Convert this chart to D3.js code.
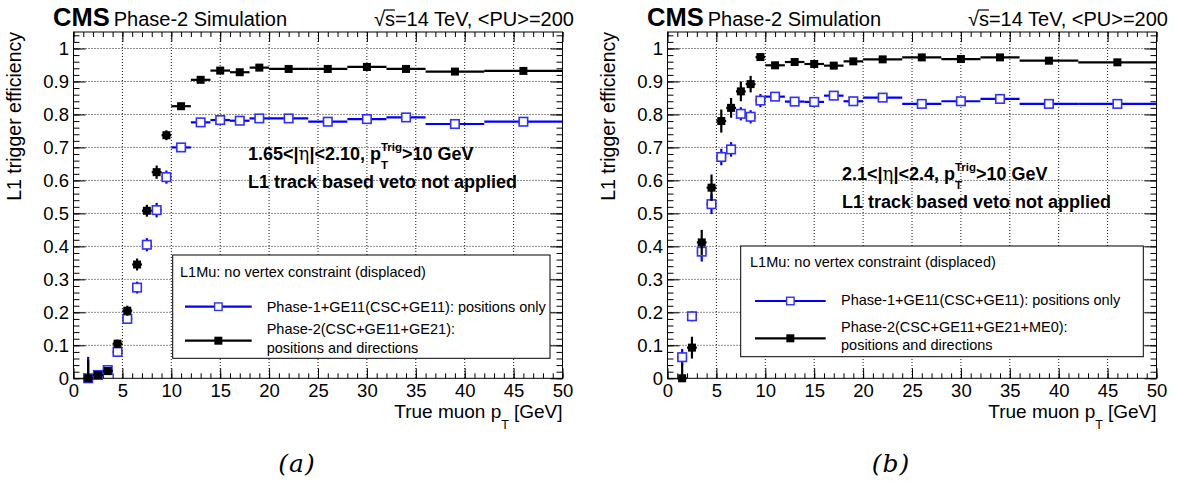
<!DOCTYPE html>
<html>
<head>
<meta charset="utf-8">
<style>
  body { margin: 0; background: #fff; }
  svg { display: block; }
  text { font-family: "Liberation Sans", Arial, sans-serif; }
</style>
<script src="https://d3js.org/d3.v7.min.js"></script>
</head>
<body>
<div id="chart"></div>
<script>
// ---- data ----
var binEdges = [1, 2, 3, 4, 5, 6, 7, 8, 9, 10, 12, 14, 16, 18, 20, 24, 28, 32, 36, 42, 50];
var xTicks = [0, 5, 10, 15, 20, 25, 30, 35, 40, 45, 50];
var yTicks = [0, 0.1, 0.2, 0.3, 0.4, 0.5, 0.6, 0.7, 0.8, 0.9, 1];
var yTickLabels = ["0", "0.1", "0.2", "0.3", "0.4", "0.5", "0.6", "0.7", "0.8", "0.9", "1"];

// (a) 1.65<|eta|<2.10
var effA_phase1 = [0.0, 0.01, 0.025, 0.08, 0.18, 0.275, 0.405, 0.51, 0.61, 0.70, 0.776, 0.783, 0.781, 0.788, 0.788, 0.778, 0.786, 0.791, 0.771, 0.778];
var errA_phase1 = [0.065, 0.01, 0.01, 0.012, 0.015, 0.018, 0.02, 0.022, 0.02, 0.008, 0.006, 0.006, 0.006, 0.005, 0.004, 0.004, 0.004, 0.004, 0.003, 0.003];
var effA_phase2 = [0.0, 0.01, 0.022, 0.105, 0.205, 0.345, 0.508, 0.625, 0.737, 0.825, 0.905, 0.933, 0.928, 0.942, 0.938, 0.938, 0.944, 0.938, 0.93, 0.932];
var errA_phase2 = [0.055, 0.008, 0.01, 0.012, 0.015, 0.018, 0.018, 0.02, 0.015, 0.006, 0.005, 0.004, 0.004, 0.004, 0.003, 0.003, 0.003, 0.003, 0.003, 0.003];

// (b) 2.1<|eta|<2.4
var effB_phase1 = [0.064, 0.188, 0.384, 0.528, 0.671, 0.694, 0.802, 0.793, 0.842, 0.854, 0.839, 0.838, 0.857, 0.840, 0.851, 0.832, 0.840, 0.847, 0.832, 0.832];
var errB_phase1 = [0.025, 0.015, 0.03, 0.03, 0.025, 0.022, 0.02, 0.02, 0.02, 0.008, 0.008, 0.008, 0.008, 0.007, 0.005, 0.005, 0.005, 0.005, 0.004, 0.004];
var effB_phase2 = [0.0, 0.093, 0.412, 0.578, 0.78, 0.82, 0.87, 0.892, 0.974, 0.949, 0.959, 0.953, 0.948, 0.961, 0.967, 0.973, 0.968, 0.973, 0.963, 0.958];
var errB_phase2 = [0.045, 0.033, 0.038, 0.04, 0.035, 0.03, 0.03, 0.025, 0.012, 0.01, 0.01, 0.01, 0.01, 0.008, 0.006, 0.006, 0.006, 0.006, 0.005, 0.005];

var W = 1178, H = 484;
var blue = "#0000ff", blueMk = "#3030ff";

var svg = d3.select("#chart").append("svg")
    .attr("width", W)
    .attr("height", H);

svg.append("rect").attr("width", W).attr("height", H).attr("fill", "#fff");

// sequential text pieces (sub/superscripts, greek), returns width
function rich(g, x, y, parts, base) {
    var cx = x;
    function piece(p, px) {
        var t = g.append("text")
            .attr("x", px)
            .attr("y", y + (p.dy || 0))
            .attr("font-size", p.size || base.size)
            .attr("font-weight", p.weight || base.weight || "normal")
            .text(p.t);
        if (p.family) t.style("font-family", p.family);
        var w = t.node().getComputedTextLength() + (p.gap || 0);
        if (p.overline) {
            var s = p.size || base.size;
            g.append("line")
                .attr("x1", px - 1).attr("x2", px + w)
                .attr("y1", y - s * 0.8).attr("y2", y - s * 0.8)
                .attr("stroke", "#000").attr("stroke-width", 1.2);
        }
        return w;
    }
    parts.forEach(function(p) {
        if (p.stack) {
            var w = 0;
            p.stack.forEach(function(s) { w = Math.max(w, piece(s, cx)); });
            cx += w;
        } else {
            cx += piece(p, cx);
        }
    });
    return cx - x;
}

function richEnd(xEnd, y, parts, base) {
    var g = svg.append("g");
    var w = rich(g, 0, y, parts, base);
    g.attr("transform", "translate(" + (xEnd - w) + ",0)");
}

function drawPanel(p) {
    var yTop = 32, yBot = 378.3;
    var x = d3.scaleLinear().domain([0, 50]).range([p.x0, p.x1]);
    var y = d3.scaleLinear().domain([0, 1.05]).range([yBot, yTop]);
    var g = svg.append("g");

    // dotted grid
    g.append("g").selectAll("line")
        .data(xTicks.slice(1, -1))
        .join("line")
        .attr("x1", d => x(d)).attr("x2", d => x(d))
        .attr("y1", yTop).attr("y2", yBot)
        .attr("stroke", "#000").attr("stroke-width", 0.9)
        .attr("stroke-dasharray", "1,2");
    g.append("g").selectAll("line")
        .data(yTicks.slice(1))
        .join("line")
        .attr("x1", p.x0).attr("x2", p.x1)
        .attr("y1", d => y(d)).attr("y2", d => y(d))
        .attr("stroke", "#000").attr("stroke-width", 0.9)
        .attr("stroke-dasharray", "1,2");

    var xMinor = d3.range(0, 51);
    var yMinor = d3.range(0, 53).map(i => i * 0.02).filter(v => v <= 1.05);

    // bottom
    var xb = g.append("g").attr("transform", "translate(0," + yBot + ")")
        .call(d3.axisBottom(x).tickValues(xTicks).tickSize(-10).tickPadding(5.5)
            .tickFormat(d3.format("d")));
    g.append("g").attr("transform", "translate(0," + yBot + ")")
        .call(d3.axisBottom(x).tickValues(xMinor).tickSize(-5).tickFormat(""));
    // top
    g.append("g").attr("transform", "translate(0," + yTop + ")")
        .call(d3.axisTop(x).tickValues(xTicks).tickSize(-10).tickFormat(""));
    g.append("g").attr("transform", "translate(0," + yTop + ")")
        .call(d3.axisTop(x).tickValues(xMinor).tickSize(-5).tickFormat(""));
    // left
    var yl = g.append("g").attr("transform", "translate(" + p.x0 + ",0)")
        .call(d3.axisLeft(y).tickValues(yTicks).tickSize(-12).tickPadding(4.5)
            .tickFormat((d, i) => yTickLabels[i]));
    g.append("g").attr("transform", "translate(" + p.x0 + ",0)")
        .call(d3.axisLeft(y).tickValues(yMinor).tickSize(-6).tickFormat(""));
    // right
    g.append("g").attr("transform", "translate(" + p.x1 + ",0)")
        .call(d3.axisRight(y).tickValues(yTicks).tickSize(-12).tickFormat(""));
    g.append("g").attr("transform", "translate(" + p.x1 + ",0)")
        .call(d3.axisRight(y).tickValues(yMinor).tickSize(-6).tickFormat(""));

    g.selectAll(".domain").remove();
    g.selectAll(".tick line").attr("stroke", "#000").attr("stroke-width", 1);
    [xb, yl].forEach(a => a.selectAll("text")
        .attr("font-size", 18.5).attr("fill", "#000"));

    g.append("rect")
        .attr("x", p.x0).attr("y", yTop)
        .attr("width", p.x1 - p.x0).attr("height", yBot - yTop)
        .attr("fill", "none").attr("stroke", "#000").attr("stroke-width", 1);

    // series: blue first, black on top
    function series(vals, errs, col, mkCol, filled) {
        var s = g.append("g");
        var bins = vals.map((v, i) => ({
            lo: binEdges[i], hi: binEdges[i + 1],
            c: (binEdges[i] + binEdges[i + 1]) / 2, v: v, e: errs[i]
        }));
        s.selectAll(".h").data(bins).join("line")
            .attr("x1", d => x(d.lo)).attr("x2", d => x(d.hi))
            .attr("y1", d => y(d.v)).attr("y2", d => y(d.v))
            .attr("stroke", col).attr("stroke-width", 2.2);
        s.selectAll(".v").data(bins).join("line")
            .attr("x1", d => x(d.c)).attr("x2", d => x(d.c))
            .attr("y1", d => y(Math.max(0, d.v - d.e)))
            .attr("y2", d => y(Math.min(1.05, d.v + d.e)))
            .attr("stroke", col).attr("stroke-width", 2.2);
        var m = filled ? 8 : 8.5;
        s.selectAll("rect").data(bins).join("rect")
            .attr("x", d => x(d.c) - m / 2).attr("y", d => y(d.v) - m / 2)
            .attr("width", m).attr("height", m)
            .attr("fill", filled ? mkCol : "#fff")
            .attr("stroke", mkCol).attr("stroke-width", filled ? 0 : 1.6);
    }
    series(p.v1, p.e1, blue, blueMk, false);
    series(p.v2, p.e2, "#000", "#000", true);

    // header
    var cms = svg.append("text").attr("x", p.x0 - 20.5).attr("y", 26)
        .attr("font-size", 25.5).attr("font-weight", "bold").text("CMS");
    var cw = cms.node().getComputedTextLength();
    svg.append("text").attr("x", p.x0 - 20.5 + cw + 4).attr("y", 26)
        .attr("font-size", 20).text("Phase-2 Simulation");
    richEnd(p.x1 + 11.5, 26, [
        {t: "√"}, {t: "s", overline: true}, {t: "=14 TeV, <PU>=200"}
    ], {size: 20});

    // axis titles
    svg.append("text")
        .attr("transform", "translate(" + (p.x0 - 53) + "," + yTop + ") rotate(-90)")
        .attr("text-anchor", "end")
        .attr("font-size", 19.5)
        .text("L1 trigger efficiency");
    richEnd(p.x1, 418, [
        {t: "True muon p"}, {t: "T", size: 12.5, dy: 11, gap: 5}, {t: "[GeV]"}
    ], {size: 19});

    // annotation
    var ag = svg.append("g");
    rich(ag, p.ax, p.ay, [
        {t: p.etaLo + "<|"},
        {t: "η", family: "'DejaVu Serif', serif", weight: "normal"},
        {t: "|<" + p.etaHi + ", p"},
        {stack: [{t: "T", size: 11.5, dy: 9}, {t: "Trig", size: 11.5, dy: -9}]},
        {t: ">10 GeV"}
    ], {size: 18, weight: "bold"});
    svg.append("text").attr("x", p.ax).attr("y", p.ay + 28)
        .attr("font-size", 18).attr("font-weight", "bold")
        .text("L1 track based veto not applied");

    // legend
    var L = p.leg;
    var lg = svg.append("g").attr("transform", "translate(" + L.x + "," + L.y + ")");
    lg.append("rect").attr("width", L.w).attr("height", L.h)
        .attr("fill", "#fff").attr("stroke", "#000").attr("stroke-width", 1);
    lg.append("text").attr("x", L.tx0).attr("y", L.ty0).attr("font-size", 14.5)
        .text("L1Mu: no vertex constraint (displaced)");
    [[L.l1, blue, blueMk, false], [L.l2, "#000", "#000", true]].forEach(function(r) {
        lg.append("line").attr("x1", L.lx0).attr("x2", L.lx1)
            .attr("y1", r[0]).attr("y2", r[0])
            .attr("stroke", r[1]).attr("stroke-width", 2.2);
        var m = r[3] ? 8 : 7.5;
        lg.append("rect").attr("x", (L.lx0 + L.lx1) / 2 - m / 2).attr("y", r[0] - m / 2)
            .attr("width", m).attr("height", m)
            .attr("fill", r[3] ? "#000" : "#fff")
            .attr("stroke", r[2]).attr("stroke-width", r[3] ? 0 : 1.4);
    });
    lg.append("text").attr("x", L.tx).attr("y", L.t1).attr("font-size", 14.5)
        .text("Phase-1+GE11(CSC+GE11): positions only");
    lg.append("text").attr("x", L.tx).attr("y", L.t2).attr("font-size", 14.5)
        .text(p.phase2Label);
    lg.append("text").attr("x", L.tx).attr("y", L.t3).attr("font-size", 14.5)
        .text("positions and directions");

    // caption
    svg.append("text").attr("x", p.capX).attr("y", 472)
        .attr("text-anchor", "middle")
        .attr("font-size", 25).attr("font-style", "italic")
        .attr("letter-spacing", 1)
        .style("font-family", "'DejaVu Serif', serif")
        .text(p.caption);
}

drawPanel({
    x0: 73.5, x1: 562.5,
    v1: effA_phase1, e1: errA_phase1, v2: effA_phase2, e2: errA_phase2,
    etaLo: "1.65", etaHi: "2.10", ax: 248, ay: 160,
    phase2Label: "Phase-2(CSC+GE11+GE21):",
    leg: {x: 172.7, y: 255, w: 377.3, h: 103.3, tx0: 7.3, ty0: 21.7,
          lx0: 12.3, lx1: 79, l1: 51.7, l2: 85.7, tx: 94, t1: 56.7, t2: 79.3, t3: 97.7},
    caption: "(a)", capX: 297
});

drawPanel({
    x0: 667.5, x1: 1156.5,
    v1: effB_phase1, e1: errB_phase1, v2: effB_phase2, e2: errB_phase2,
    etaLo: "2.1", etaHi: "2.4", ax: 842, ay: 180,
    phase2Label: "Phase-2(CSC+GE11+GE21+ME0):",
    leg: {x: 740.7, y: 246, w: 402.6, h: 110.7, tx0: 9.3, ty0: 21.3,
          lx0: 14.3, lx1: 85, l1: 55, l2: 92.3, tx: 100.3, t1: 59, t2: 86.3, t3: 104},
    caption: "(b)", capX: 891
});
</script>
</body>
</html>
